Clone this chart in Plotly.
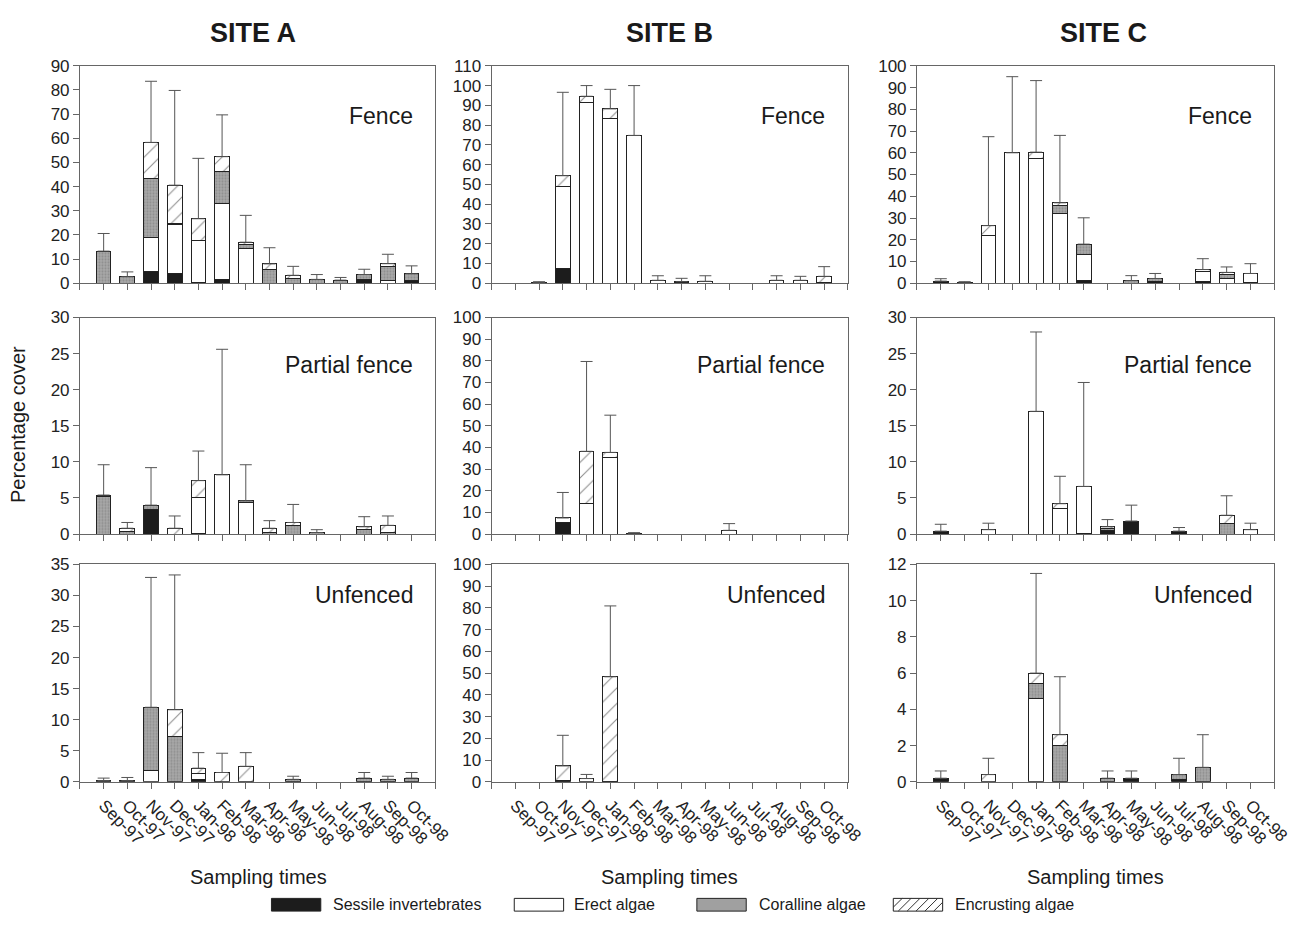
import plotly.graph_objects as go

W, H = 1314, 927
FONT = "Liberation Sans, Arial, sans-serif"

months = ["Sep-97", "Oct-97", "Nov-97", "Dec-97", "Jan-98", "Feb-98", "Mar-98",
          "Apr-98", "May-98", "Jun-98", "Jul-98", "Aug-98", "Sep-98", "Oct-98"]
sites = ["SITE A", "SITE B", "SITE C"]
treatments = ["Fence", "Partial fence", "Unfenced"]
components = ["Sessile invertebrates", "Erect algae", "Coralline algae", "Encrusting algae"]

# ---------------- SITE A ----------------
A_fence_sess  = [0, 0, 4.7, 4.2, 0.4, 1.7, 0, 0, 0, 0, 0, 1.7, 0, 1.0]
A_fence_erect = [0, 0, 14.2, 20.3, 17.2, 31.3, 14.2, 0, 0, 0, 0, 0, 1.3, 0]
A_fence_coral = [13.3, 2.7, 24.4, 0.3, 0, 13.3, 1.8, 5.7, 2.0, 1.6, 1.3, 1.9, 5.7, 2.9]
A_fence_enc   = [0, 0, 15.0, 15.8, 9.1, 6.1, 1.0, 2.3, 1.3, 0, 0, 0, 1.1, 0]
A_fence_se    = [7.3, 2.0, 25.3, 39.2, 25.0, 17.3, 11.1, 6.7, 3.7, 2.0, 1.1, 2.2, 3.9, 3.3]

A_partial_sess  = [0, 0, 3.4, 0, 0.1, 0, 0, 0, 0, 0, 0, 0, 0, 0]
A_partial_erect = [0, 0, 0, 0, 4.9, 8.2, 4.4, 0, 0, 0, 0, 0, 0, 0]
A_partial_coral = [5.2, 0.35, 0.6, 0, 0, 0, 0.2, 0.2, 1.2, 0.2, 0, 0.6, 0.2, 0]
A_partial_enc   = [0.2, 0.45, 0, 0.8, 2.4, 0, 0, 0.6, 0.4, 0, 0, 0.4, 1.0, 0]
A_partial_se    = [4.2, 0.8, 5.2, 1.7, 4.1, 17.4, 5.0, 1.05, 2.5, 0.4, 0, 1.4, 1.3, 0]

A_unf_sess  = [0, 0, 0, 0, 0.3, 0, 0, 0, 0, 0, 0, 0, 0, 0]
A_unf_erect = [0, 0, 1.8, 0, 1.0, 0, 0, 0, 0, 0, 0, 0, 0, 0]
A_unf_coral = [0.2, 0.2, 10.2, 7.3, 0, 0, 0, 0, 0.4, 0, 0, 0.6, 0.4, 0.6]
A_unf_enc   = [0, 0, 0, 4.3, 0.9, 1.5, 2.5, 0, 0, 0, 0, 0, 0, 0]
A_unf_se    = [0.4, 0.5, 20.9, 21.7, 2.5, 3.1, 2.2, 0, 0.5, 0, 0, 0.9, 0.5, 0.9]

# ---------------- SITE B ----------------
B_fence_sess  = [0, 0, 7.4, 0, 0, 0, 0, 0, 0, 0, 0, 0, 0, 0]
B_fence_erect = [0, 0.3, 41.6, 91.5, 83.4, 74.8, 1.5, 0, 1.0, 0, 0, 1.5, 1.5, 0.5]
B_fence_coral = [0, 0, 0, 0, 0, 0, 0, 0.5, 0, 0, 0, 0, 0, 0]
B_fence_enc   = [0, 0, 5.4, 3.1, 4.8, 0, 0, 0.3, 0, 0, 0, 0, 0, 3.0]
B_fence_se    = [0, 0.5, 42.2, 5.4, 9.9, 25.2, 2.3, 1.7, 2.8, 0, 0, 2.3, 2.0, 4.9]

B_partial_sess  = [0, 0, 5.3, 0, 0, 0.4, 0, 0, 0, 0, 0, 0, 0, 0]
B_partial_erect = [0, 0, 2.1, 14.3, 35.2, 0, 0, 0, 0, 1.7, 0, 0, 0, 0]
B_partial_coral = [0, 0, 0, 0, 0, 0, 0, 0, 0, 0, 0, 0, 0, 0]
B_partial_enc   = [0, 0, 0, 23.9, 2.5, 0, 0, 0, 0, 0, 0, 0, 0, 0]
B_partial_se    = [0, 0, 11.8, 41.5, 17.2, 0.2, 0, 0, 0, 3.1, 0, 0, 0, 0]

B_unf_sess  = [0, 0, 0.7, 0, 0, 0, 0, 0, 0, 0, 0, 0, 0, 0]
B_unf_erect = [0, 0, 0, 1.5, 0.3, 0, 0, 0, 0, 0, 0, 0, 0, 0]
B_unf_coral = [0, 0, 0, 0, 0, 0, 0, 0, 0, 0, 0, 0, 0, 0]
B_unf_enc   = [0, 0, 6.6, 0, 48.0, 0, 0, 0, 0, 0, 0, 0, 0, 0]
B_unf_se    = [0, 0, 14.1, 1.9, 32.6, 0, 0, 0, 0, 0, 0, 0, 0, 0]

# ---------------- SITE C ----------------
C_fence_sess  = [0.6, 0.3, 0, 0, 0, 0, 1.5, 0, 0, 1.0, 0, 1.0, 0, 0.3]
C_fence_erect = [0, 0, 21.8, 60.0, 57.4, 32.3, 11.9, 0, 0, 0, 0, 4.3, 2.0, 4.2]
C_fence_coral = [0.4, 0.2, 0, 0, 0, 3.6, 4.6, 0, 1.2, 1.2, 0, 0, 2.0, 0]
C_fence_enc   = [0, 0, 4.7, 0, 2.9, 1.1, 0, 0, 0, 0, 0, 1.0, 1.0, 0]
C_fence_se    = [1.1, 0.2, 40.9, 35.0, 32.9, 31.0, 12.1, 0, 2.3, 2.3, 0, 5.0, 2.5, 4.5]

C_partial_sess  = [0.4, 0, 0, 0, 0, 0, 0.1, 0.5, 1.8, 0, 0.4, 0, 0, 0]
C_partial_erect = [0, 0, 0.6, 0, 17.0, 3.5, 6.5, 0, 0, 0, 0, 0, 0, 0.6]
C_partial_coral = [0, 0, 0, 0, 0, 0, 0, 0.2, 0, 0, 0, 0, 1.4, 0]
C_partial_enc   = [0, 0, 0, 0, 0, 0.7, 0, 0.3, 0, 0, 0, 0, 1.2, 0]
C_partial_se    = [0.95, 0, 0.9, 0, 11.0, 3.8, 14.4, 1.0, 2.2, 0, 0.5, 0, 2.7, 0.9]

C_unf_sess  = [0.2, 0, 0, 0, 0, 0, 0, 0, 0.2, 0, 0.15, 0, 0, 0]
C_unf_erect = [0, 0, 0, 0, 4.6, 0, 0, 0, 0, 0, 0, 0, 0, 0]
C_unf_coral = [0, 0, 0, 0, 0.8, 2.0, 0, 0.2, 0, 0, 0.25, 0.8, 0, 0]
C_unf_enc   = [0, 0, 0.4, 0, 0.6, 0.6, 0, 0, 0, 0, 0, 0, 0, 0]
C_unf_se    = [0.4, 0, 0.9, 0, 5.5, 3.2, 0, 0.4, 0.4, 0, 0.9, 1.8, 0, 0]

# y-axis maxima and steps per panel [row][col]
y_max = [[90, 110, 100], [30, 100, 30], [35, 100, 12]]
y_step = [[10, 10, 10], [5, 10, 5], [5, 10, 2]]

panels = [
    [(A_fence_sess, A_fence_erect, A_fence_coral, A_fence_enc, A_fence_se),
     (B_fence_sess, B_fence_erect, B_fence_coral, B_fence_enc, B_fence_se),
     (C_fence_sess, C_fence_erect, C_fence_coral, C_fence_enc, C_fence_se)],
    [(A_partial_sess, A_partial_erect, A_partial_coral, A_partial_enc, A_partial_se),
     (B_partial_sess, B_partial_erect, B_partial_coral, B_partial_enc, B_partial_se),
     (C_partial_sess, C_partial_erect, C_partial_coral, C_partial_enc, C_partial_se)],
    [(A_unf_sess, A_unf_erect, A_unf_coral, A_unf_enc, A_unf_se),
     (B_unf_sess, B_unf_erect, B_unf_coral, B_unf_enc, B_unf_se),
     (C_unf_sess, C_unf_erect, C_unf_coral, C_unf_enc, C_unf_se)],
]

# ---------------- styles ----------------
OUTLINE = "#222222"
AXIS = "#666666"
styles = [
    dict(color="#1c1c1c"),
    dict(color="#ffffff"),
    dict(color="#9c9c9c", pattern=dict(shape=".", fgcolor="#6f6f6f", bgcolor="#a8a8a8",
                                       size=3, solidity=0.35)),
    dict(color="#ffffff", pattern=dict(shape="/", fgcolor="#222222", bgcolor="#ffffff",
                                       size=11, solidity=0.1)),
]

# pixel layout
col_px = [(81, 441), (498, 859), (929, 1291)]
row_px = [(58, 280), (315, 536), (567, 789)]


def px_x(x):
    return x / W


def px_y(y):
    return 1 - y / H


fig = go.Figure()
layout_axes = {}
x_idx = list(range(len(months)))

for r in range(3):
    for c in range(3):
        k = r * 3 + c + 1
        xn = "x" if k == 1 else f"x{k}"
        yn = "y" if k == 1 else f"y{k}"
        sess, erect, coral, enc, se = panels[r][c]
        totals = [round(a + b + cc + d, 3) for a, b, cc, d in zip(sess, erect, coral, enc)]
        for comp, vals, st in zip(components, (sess, erect, coral, enc), styles):
            yv = [v if v > 0 else None for v in vals]
            marker = dict(color=st["color"], line=dict(color=OUTLINE, width=1))
            if "pattern" in st:
                marker["pattern"] = st["pattern"]
            fig.add_trace(go.Bar(x=x_idx, y=yv, name=comp, marker=marker, width=0.62,
                                 xaxis=xn, yaxis=yn, showlegend=False,
                                 hovertemplate=comp + ": %{y}<extra></extra>"))
        ex = [i for i in x_idx if se[i] > 0]
        fig.add_trace(go.Scatter(
            x=ex, y=[totals[i] for i in ex], mode="markers",
            marker=dict(size=1, color="rgba(0,0,0,0)"),
            error_y=dict(type="data", symmetric=False, array=[se[i] for i in ex],
                         arrayminus=[0] * len(ex), color="#555555", thickness=1, width=6),
            xaxis=xn, yaxis=yn, showlegend=False, hoverinfo="skip"))

        x0, x1 = col_px[c]
        y0, y1 = row_px[r]
        xkey = "xaxis" if k == 1 else f"xaxis{k}"
        ykey = "yaxis" if k == 1 else f"yaxis{k}"
        ticktext = ([""] + months + [""]) if r == 2 else [""] * 16
        layout_axes[xkey] = dict(
            domain=[px_x(x0), px_x(x1)], anchor=yn, range=[-1, 14],
            tickmode="array", tickvals=list(range(-1, 15)), ticktext=ticktext,
            ticks="outside", ticklen=6, tickcolor=AXIS, tickangle=45,
            showline=True, mirror=True, linecolor=AXIS, linewidth=1,
            showgrid=False, zeroline=False,
            tickfont=dict(size=17, color="#222222", family=FONT))
        layout_axes[ykey] = dict(
            domain=[px_y(y1), px_y(y0)], anchor=xn, range=[0, y_max[r][c]],
            tickmode="linear", tick0=0, dtick=y_step[r][c],
            ticks="outside", ticklen=6, tickcolor=AXIS,
            showline=True, mirror=True, linecolor=AXIS, linewidth=1,
            showgrid=False, zeroline=False,
            tickfont=dict(size=17, color="#222222", family=FONT))

annotations = []
# site titles
for c, (name, cx) in enumerate(zip(sites, [256, 678, 1118])):
    annotations.append(dict(text=f"<b>{name}</b>", x=px_x(cx), y=px_y(25), xref="paper",
                            yref="paper", showarrow=False, xanchor="center", yanchor="middle",
                            font=dict(size=27, color="#1a1a1a", family=FONT)))
# treatment labels
label_y = [109, 363, 598]
for r in range(3):
    for c in range(3):
        annotations.append(dict(text=treatments[r], x=px_x(col_px[c][1] - 21), y=px_y(label_y[r]),
                                xref="paper", yref="paper", showarrow=False, xanchor="right",
                                yanchor="middle", font=dict(size=23, color="#1a1a1a", family=FONT)))
# axis titles
for cx in [262, 678, 1110]:
    annotations.append(dict(text="Sampling times", x=px_x(cx), y=px_y(886), xref="paper",
                            yref="paper", showarrow=False, xanchor="center", yanchor="middle",
                            font=dict(size=20, color="#1a1a1a", family=FONT)))
annotations.append(dict(text="Percentage cover", x=px_x(19), y=px_y(424), xref="paper",
                        yref="paper", showarrow=False, textangle=-90, xanchor="center",
                        yanchor="middle", font=dict(size=20, color="#1a1a1a", family=FONT)))

# custom legend (swatches as shapes)
shapes = []
leg_top, leg_bot = 908, 921
swatch_x = [275, 521, 706, 905]
text_x = [335, 580, 767, 965]
swatch_fill = ["#1c1c1c", "#ffffff", "#a0a0a0", "#ffffff"]
for i, comp in enumerate(components):
    sx = swatch_x[i]
    shapes.append(dict(type="rect", xref="paper", yref="paper",
                       x0=px_x(sx), x1=px_x(sx + 50), y0=px_y(leg_bot), y1=px_y(leg_top),
                       fillcolor=swatch_fill[i], line=dict(color=OUTLINE, width=1)))
    annotations.append(dict(text=comp, x=px_x(text_x[i]), y=px_y((leg_top + leg_bot) / 2),
                            xref="paper", yref="paper", showarrow=False, xanchor="left",
                            yanchor="middle", font=dict(size=16, color="#1a1a1a", family=FONT)))
# hatch lines in the encrusting swatch
sx = swatch_x[3]
hgt = leg_bot - leg_top
for off in range(0, 50 + hgt, 9):
    xa, ya = sx + off - hgt, leg_bot
    xb, yb = sx + off, leg_top
    if xa < sx:
        ya = leg_bot - (sx - xa)
        xa = sx
    if xb > sx + 50:
        yb = leg_top + (xb - (sx + 50))
        xb = sx + 50
    if xb - xa < 1:
        continue
    shapes.append(dict(type="line", xref="paper", yref="paper", x0=px_x(xa), y0=px_y(ya),
                       x1=px_x(xb), y1=px_y(yb), line=dict(color="#333333", width=1)))

fig.update_layout(
    width=W, height=H, margin=dict(l=0, r=0, t=0, b=0),
    barmode="stack", bargap=0.38,
    paper_bgcolor="white", plot_bgcolor="white",
    font=dict(family=FONT, color="#1a1a1a"),
    showlegend=False, annotations=annotations, shapes=shapes,
    **layout_axes)

fig.write_html("out.html")
